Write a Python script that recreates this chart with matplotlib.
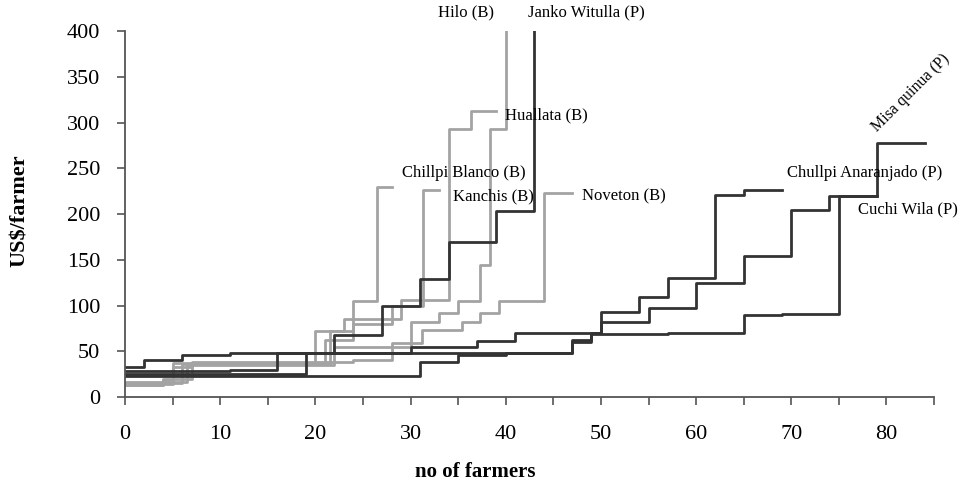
import matplotlib
matplotlib.use("Agg")
import matplotlib.pyplot as plt

plt.rcParams['font.family'] = ['Liberation Serif', 'DejaVu Serif']

# step curves: x = farmer index where the level changes (last = end), y = level (US$/farmer)
hilo_x = [0, 6.5, 22, 30, 33, 35, 37.3, 38.3, 40, 40]
hilo_y = [16, 35, 55, 82, 92, 105, 144, 293, 450, 450]

huallata_x = [0, 6, 21.5, 23, 29, 34, 36.3, 39]
huallata_y = [15, 36, 72, 85, 106, 293, 313, 313]

chillpi_blanco_x = [0, 4, 5, 20, 24, 26.5, 28]
chillpi_blanco_y = [13, 19, 37, 72, 105, 229, 229]

kanchis_x = [0, 5, 7, 21, 24, 28, 31.3, 33]
kanchis_y = [14, 33, 37, 62, 80, 99, 226, 226]

noveton_x = [0, 4, 7, 24, 28, 31.2, 35.4, 37.3, 39.3, 44, 47]
noveton_y = [13, 20, 38, 40, 59, 73, 82, 91.5, 105, 222.6, 222.6]

janko_x = [0, 11, 16, 22, 27, 31, 34, 39, 43, 43]
janko_y = [28, 30, 48, 68, 100, 129, 169, 203, 450, 450]

chullpi_anar_x = [0, 2, 6, 11, 30, 37, 41, 50, 54, 57, 62, 65, 69]
chullpi_anar_y = [33, 40, 46, 48, 55, 61, 70, 93, 109, 130, 221, 226, 226]

misa_x = [0, 31, 35, 40, 47, 49, 50, 55, 60, 65, 70, 74, 79, 84]
misa_y = [23, 38, 46, 48, 60, 70, 82, 97, 125, 154, 204, 220, 278, 278]

cuchi_x = [0, 19, 47, 49, 57, 65, 69, 75, 79]
cuchi_y = [25, 48, 62, 69, 70, 90, 91, 220, 220]

gray = '#a3a3a3'
dark = '#333333'

fig = plt.figure(figsize=(9.58, 4.84), dpi=100)
ax = fig.add_axes([0.1305, 0.1798, 0.8445, 0.756])

for xs, ys in [(hilo_x, hilo_y), (huallata_x, huallata_y), (chillpi_blanco_x, chillpi_blanco_y),
               (kanchis_x, kanchis_y), (noveton_x, noveton_y)]:
    ax.plot(xs, ys, drawstyle='steps-post', color=gray, lw=2.0)
for xs, ys in [(janko_x, janko_y), (chullpi_anar_x, chullpi_anar_y), (misa_x, misa_y), (cuchi_x, cuchi_y)]:
    ax.plot(xs, ys, drawstyle='steps-post', color=dark, lw=2.0)

ax.set_xlim(0, 85)
ax.set_ylim(0, 400)
ax.set_xticks(range(0, 81, 10))
ax.set_xticks(range(0, 86, 5), minor=True)
ax.set_yticks(range(0, 401, 50))
ax.tick_params(axis='both', which='both', direction='out', color='#555555', width=1.2, labelsize=16)
ax.tick_params(axis='both', which='major', length=6)
ax.tick_params(axis='y', which='major', pad=12)
ax.tick_params(axis='x', which='minor', length=6)
ax.tick_params(axis='x', which='major', pad=14)
for side in ['top', 'right']:
    ax.spines[side].set_visible(False)
for side in ['left', 'bottom']:
    ax.spines[side].set_color('#555555')
    ax.spines[side].set_linewidth(1.3)

ax.set_xlabel('no of farmers', fontsize=15, fontweight='bold')
ax.xaxis.set_label_coords(0.433, -0.178)
ax.set_ylabel('US$/farmer', fontsize=16, fontweight='bold')
ax.yaxis.set_label_coords(-0.117, 0.51)

fs = 12
ax.text(32.9, 412, 'Hilo (B)', fontsize=fs, va='bottom')
ax.text(42.3, 412, 'Janko Witulla (P)', fontsize=fs, va='bottom')
ax.text(39.9, 308, 'Huallata (B)', fontsize=fs, va='center')
ax.text(29.1, 245, 'Chillpi Blanco (B)', fontsize=fs, va='center')
ax.text(34.5, 219, 'Kanchis (B)', fontsize=fs, va='center')
ax.text(48.0, 219, 'Noveton (B)', fontsize=fs, va='center')
ax.text(69.6, 245, 'Chullpi Anaranjado (P)', fontsize=fs, va='center')
ax.text(77.0, 205, 'Cuchi Wila (P)', fontsize=fs, va='center')
ax.text(79.3, 286, 'Misa quinua (P)', fontsize=11.5, rotation=45, rotation_mode='anchor',
        ha='left', va='bottom')

fig.savefig('out.png', dpi=100)
